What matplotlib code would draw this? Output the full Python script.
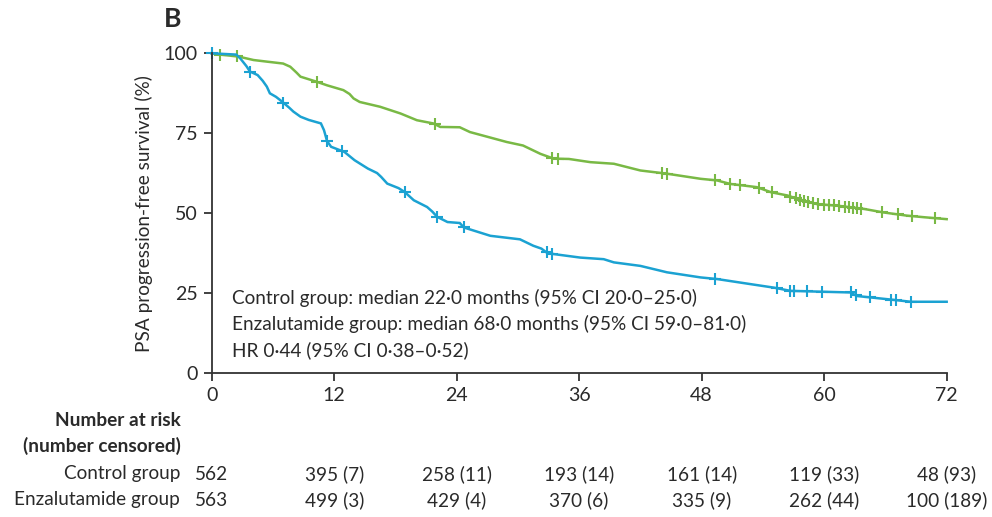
import numpy as np
import matplotlib
matplotlib.use("Agg")
import matplotlib.pyplot as plt
from matplotlib import font_manager
from matplotlib.transforms import blended_transform_factory

avail = {f.name for f in font_manager.fontManager.ttflist}
main_font = next((f for f in ['Lato', 'Open Sans', 'Noto Sans', 'Liberation Sans'] if f in avail),
                 'DejaVu Sans')
plt.rcParams['font.family'] = [main_font, 'DejaVu Sans']

# ---- data ----
# Control group (blue)
ctrl_t = [0, 2.4, 2.8, 3.4, 3.75, 4.5, 5.0, 5.4, 5.7, 6.3, 6.9, 7.6, 8.0, 8.7, 9.5, 10.7,
          11.0, 11.3, 11.7, 13.0, 14.0, 15.3, 16.2, 16.6, 17.2, 18.3, 18.9, 19.8, 21.1, 21.6,
          22.1, 23.1, 24.3, 24.7, 27.3, 30.2, 31.5, 32.3, 32.8, 33.5, 36.1, 38.4, 39.4, 42.0,
          44.6, 47.9, 49.5, 52.8, 55.1, 56.7, 62.6, 63.2, 66.2, 68.5, 72]
ctrl_s = [100, 99.6, 98.4, 96.0, 94.3, 93.2, 91.4, 89.6, 87.5, 86.4, 84.9, 83.0, 81.8, 80.2,
          79.2, 78.1, 76.0, 72.6, 70.8, 69.2, 66.6, 64.0, 62.6, 61.4, 59.3, 57.9, 56.7, 54.1,
          52.0, 50.6, 48.9, 47.3, 47.0, 45.6, 43.0, 41.9, 39.9, 39.0, 37.8, 37.3, 36.2, 35.7,
          34.7, 33.6, 31.6, 30.0, 29.5, 27.9, 26.8, 25.8, 25.3, 24.2, 23.2, 22.4, 22.4]
ctrl_cens = [0.0, 3.75, 7.0, 11.3, 12.8, 18.9, 22.1, 24.7, 32.8, 33.3, 49.3, 55.4, 56.7, 57.0,
             58.3, 59.8, 62.6, 63.1, 64.5, 66.5, 67.0, 68.5]

# Enzalutamide group (green)
enza_t = [0, 0.8, 2.6, 4.1, 5.4, 7.0, 7.7, 8.3, 8.7, 10.3, 11.3, 12.9, 13.5, 13.9, 14.5,
          16.5, 18.5, 20.1, 21.7, 22.4, 24.3, 25.3, 28.9, 30.5, 32.2, 33.5, 35.0, 37.1, 39.4,
          42.0, 44.6, 47.9, 49.5, 50.8, 53.4, 54.8, 56.4, 57.4, 59.3, 61.3, 63.9, 65.8, 68.1,
          69.8, 72]
enza_s = [100, 99.6, 99.0, 97.9, 97.4, 96.8, 95.8, 94.0, 92.7, 91.1, 90.0, 88.5, 87.3, 85.9,
          84.8, 83.3, 81.2, 79.1, 78.1, 77.0, 76.9, 75.4, 72.3, 71.2, 68.6, 67.1, 67.0, 66.0,
          65.5, 63.4, 62.4, 60.8, 60.3, 59.2, 58.2, 56.6, 55.6, 54.5, 52.9, 52.4, 51.4, 50.3,
          49.3, 48.8, 48.2]
enza_cens = [0.8, 2.5, 10.3, 21.9, 33.3, 33.9, 44.1, 44.6, 49.3, 50.8, 51.8, 53.6, 54.9,
             56.7, 57.2, 57.6, 58.0, 58.4, 58.9, 59.4, 60.0, 60.5, 61.0, 61.5, 62.0, 62.4,
             62.8, 63.2, 63.6, 65.7, 67.2, 68.6, 70.9]

xticks = [0, 12, 24, 36, 48, 60, 72]
yticks = [0, 25, 50, 75, 100]
ctrl_risk = ["562", "395 (7)", "258 (11)", "193 (14)", "161 (14)", "119 (33)", "48 (93)"]
enza_risk = ["563", "499 (3)", "429 (4)", "370 (6)", "335 (9)", "262 (44)", "100 (189)"]

annot = ["Control group: median 22·0 months (95% CI 20·0–25·0)",
         "Enzalutamide group: median 68·0 months (95% CI 59·0–81·0)",
         "HR 0·44 (95% CI 0·38–0·52)"]

BLUE = "#1ba2d2"
GREEN = "#79b945"
TXT = "#2a2a2a"

fig = plt.figure(figsize=(9.92, 5.17), dpi=100)
ax = fig.add_axes([0.2134, 0.2776, 0.9543 - 0.2134, 0.8969 - 0.2776])

# font size so that the first annotation line is ~463 px wide (as in reference)
renderer = fig.canvas.get_renderer()
probe = fig.text(0, 0, annot[0], fontsize=12)
w12 = probe.get_window_extent(renderer).width
probe.remove()
FS = 12 * 463.0 / w12


def step_val(t, s, x):
    return float(np.interp(x, t, s))


for t, s, c, col in [(enza_t, enza_s, enza_cens, GREEN), (ctrl_t, ctrl_s, ctrl_cens, BLUE)]:
    ax.plot(t, s, color=col, lw=1.8, clip_on=False, solid_joinstyle='miter')
    cy = [step_val(t, s, x) for x in c]
    ax.plot(c, cy, ls='none', marker='+', ms=8, mew=1.5, color=col, clip_on=False)

ax.set_xlim(0, 72)
ax.set_ylim(0, 100)
ax.set_xticks(xticks)
ax.set_yticks(yticks)
for sp in ['top', 'right']:
    ax.spines[sp].set_visible(False)
for sp in ['left', 'bottom']:
    ax.spines[sp].set_color('#333333')
    ax.spines[sp].set_linewidth(1.3)
ax.tick_params(direction='out', length=6, width=1.3, color='#333333', labelsize=FS * 1.03,
               labelcolor=TXT, pad=4)
ax.set_ylabel("PSA progression-free survival (%)", fontsize=FS, color=TXT, labelpad=8)

for i, line in enumerate(annot):
    ax.text(2.0, 23.7 - i * 8.2, line, fontsize=FS, color=TXT, va='center', ha='left')

fig.text(0.165, 0.963, "B", fontsize=FS * 1.4, fontweight='bold', color=TXT, va='center', ha='left')

tr = blended_transform_factory(ax.transData, fig.transFigure)
fig.text(181 / 992, 1 - 420 / 517, "Number at risk", fontsize=FS, fontweight='bold',
         color=TXT, ha='right', va='center')
fig.text(181 / 992, 1 - 446 / 517, "(number censored)", fontsize=FS, fontweight='bold',
         color=TXT, ha='right', va='center')
fig.text(180 / 992, 1 - 474 / 517, "Control group", fontsize=FS, color=TXT,
         ha='right', va='center')
fig.text(180 / 992, 1 - 500 / 517, "Enzalutamide group", fontsize=FS, color=TXT,
         ha='right', va='center')
for x, a, b in zip(xticks, ctrl_risk, enza_risk):
    fig.text(x, 1 - 474 / 517, a, transform=tr, fontsize=FS, color=TXT, ha='center', va='center')
    fig.text(x, 1 - 500 / 517, b, transform=tr, fontsize=FS, color=TXT, ha='center', va='center')

fig.savefig("out.png", dpi=100)
